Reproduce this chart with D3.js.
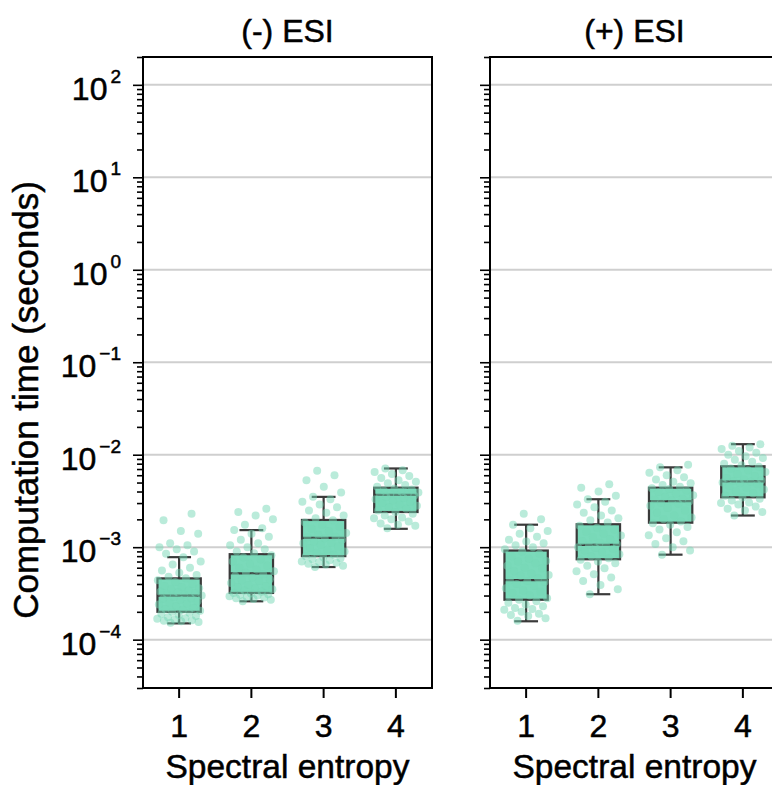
<!DOCTYPE html>
<html><head><meta charset="utf-8">
<script src="https://cdn.jsdelivr.net/npm/d3@7"></script>
<style>body{margin:0;background:#fff;} svg{display:block;font-family:"Liberation Sans",Arial,Helvetica,sans-serif;} text{stroke:#000;stroke-width:0.5px;}</style>
</head><body>
<svg id="chart" width="772" height="785"></svg>
<script>
const panels = ["(-) ESI", "(+) ESI"];
const categories = ["1", "2", "3", "4"];
const yTickExponents = [-4, -3, -2, -1, 0, 1, 2];
const yLabel = "Computation time (seconds)";
const xLabel = "Spectral entropy";

// box statistics per panel (order: categories)
const whiskerLow = [[1.5e-4, 2.6e-4, 6.1e-4, 1.58e-3], [1.58e-4, 3.1e-4, 8.3e-4, 2.2e-3]];
const q1 = [[2.0e-4, 3.2e-4, 8.0e-4, 2.4e-3], [2.7e-4, 7.4e-4, 1.84e-3, 3.46e-3]];
const median = [[3.0e-4, 5.2e-4, 1.26e-3, 3.67e-3], [4.4e-4, 1.06e-3, 3.15e-3, 5.15e-3]];
const q3 = [[4.6e-4, 8.4e-4, 1.97e-3, 4.4e-3], [9.2e-4, 1.77e-3, 4.4e-3, 7.5e-3]];
const whiskerHigh = [[7.8e-4, 1.53e-3, 3.5e-3, 7.1e-3], [1.75e-3, 3.3e-3, 7.3e-3, 1.3e-2]];

// individual observations
const negESI_1 = [1.52e-4,1.55e-4,1.58e-4,1.6e-4,1.62e-4,1.65e-4,1.68e-4,1.7e-4,1.75e-4,1.8e-4,1.85e-4,1.9e-4,1.95e-4,2.0e-4,
  2.05e-4,2.1e-4,2.15e-4,2.2e-4,2.3e-4,2.4e-4,2.45e-4,2.5e-4,2.6e-4,2.7e-4,2.75e-4,2.8e-4,2.9e-4,3.0e-4,3.05e-4,3.1e-4,3.2e-4,3.25e-4,3.3e-4,3.4e-4,3.5e-4,3.6e-4,3.7e-4,3.8e-4,4.0e-4,4.2e-4,4.4e-4,4.6e-4,
  4.8e-4,5.0e-4,5.3e-4,5.6e-4,6.0e-4,6.5e-4,7.0e-4,7.8e-4,8.5e-4,9.0e-4,9.5e-4,1.0e-3,1.05e-3,1.1e-3,1.4e-3,1.5e-3,1.95e-3,2.3e-3];
const negESI_2 = [2.6e-4,2.7e-4,2.75e-4,2.8e-4,2.85e-4,2.9e-4,2.95e-4,3.0e-4,3.05e-4,3.1e-4,3.15e-4,3.2e-4,
  3.3e-4,3.4e-4,3.5e-4,3.6e-4,3.7e-4,3.8e-4,3.9e-4,4.1e-4,4.3e-4,4.4e-4,4.5e-4,4.7e-4,4.9e-4,5.1e-4,5.3e-4,5.5e-4,5.7e-4,6.0e-4,6.3e-4,6.6e-4,7.0e-4,7.4e-4,7.8e-4,8.2e-4,
  8.6e-4,9.0e-4,9.5e-4,1.0e-3,1.05e-3,1.1e-3,1.2e-3,1.3e-3,1.4e-3,1.53e-3,1.6e-3,1.75e-3,2.0e-3,2.2e-3,2.4e-3,2.6e-3];
const negESI_3 = [6.1e-4,6.3e-4,6.5e-4,6.6e-4,6.8e-4,6.9e-4,7.0e-4,7.2e-4,7.4e-4,7.6e-4,7.8e-4,8.0e-4,
  8.3e-4,8.7e-4,9.0e-4,9.4e-4,9.8e-4,1.02e-3,1.06e-3,1.1e-3,1.12e-3,1.15e-3,1.2e-3,1.25e-3,1.28e-3,1.3e-3,1.36e-3,1.42e-3,1.5e-3,1.58e-3,1.66e-3,1.75e-3,1.85e-3,1.95e-3,
  2.05e-3,2.2e-3,2.35e-3,2.5e-3,2.7e-3,2.9e-3,3.1e-3,3.3e-3,3.5e-3,3.9e-3,4.5e-3,5.3e-3,6.0e-3,6.7e-3];
const negESI_4 = [1.6e-3,1.7e-3,1.75e-3,1.8e-3,1.9e-3,2.0e-3,2.05e-3,2.1e-3,2.2e-3,2.3e-3,2.4e-3,
  2.5e-3,2.6e-3,2.7e-3,2.8e-3,2.9e-3,3.0e-3,3.1e-3,3.2e-3,3.3e-3,3.4e-3,3.5e-3,3.6e-3,3.65e-3,3.7e-3,3.75e-3,3.8e-3,3.9e-3,4.0e-3,4.1e-3,4.2e-3,4.3e-3,
  4.5e-3,4.7e-3,4.9e-3,5.1e-3,5.3e-3,5.6e-3,5.9e-3,6.2e-3,6.5e-3,6.8e-3,7.1e-3];
const posESI_1 = [1.6e-4,1.7e-4,1.8e-4,1.85e-4,1.9e-4,2.0e-4,2.1e-4,2.15e-4,2.2e-4,2.3e-4,2.4e-4,2.5e-4,2.6e-4,2.7e-4,
  2.8e-4,3.0e-4,3.2e-4,3.3e-4,3.4e-4,3.6e-4,3.8e-4,4.0e-4,4.2e-4,4.3e-4,4.4e-4,4.6e-4,4.9e-4,5.0e-4,5.2e-4,5.5e-4,5.9e-4,6.0e-4,6.3e-4,6.7e-4,7.0e-4,7.1e-4,7.5e-4,8.0e-4,8.5e-4,9.0e-4,
  9.5e-4,1.0e-3,1.05e-3,1.1e-3,1.15e-3,1.2e-3,1.3e-3,1.4e-3,1.5e-3,1.6e-3,1.75e-3,2.0e-3,2.3e-3];
const posESI_2 = [3.1e-4,3.5e-4,3.9e-4,4.3e-4,4.7e-4,5.1e-4,5.5e-4,5.9e-4,6.3e-4,6.7e-4,7.0e-4,7.3e-4,
  7.6e-4,8.0e-4,8.4e-4,8.8e-4,9.2e-4,9.6e-4,9.8e-4,1.0e-3,1.04e-3,1.06e-3,1.08e-3,1.12e-3,1.17e-3,1.22e-3,1.28e-3,1.34e-3,1.4e-3,1.47e-3,1.55e-3,1.62e-3,1.7e-3,
  1.85e-3,1.95e-3,2.05e-3,2.2e-3,2.35e-3,2.5e-3,2.7e-3,2.9e-3,3.1e-3,3.3e-3,3.6e-3,4.0e-3,4.4e-3,4.8e-3];
const posESI_3 = [8.3e-4,9.2e-4,1.0e-3,1.08e-3,1.16e-3,1.25e-3,1.35e-3,1.45e-3,1.55e-3,1.65e-3,1.75e-3,1.82e-3,
  1.9e-3,2.0e-3,2.1e-3,2.2e-3,2.35e-3,2.5e-3,2.65e-3,2.8e-3,2.95e-3,3.0e-3,3.1e-3,3.2e-3,3.25e-3,3.35e-3,3.5e-3,3.65e-3,3.8e-3,3.95e-3,4.1e-3,4.25e-3,4.35e-3,
  4.5e-3,4.7e-3,4.9e-3,5.1e-3,5.4e-3,5.7e-3,6.0e-3,6.4e-3,6.8e-3,7.3e-3,7.8e-3];
const posESI_4 = [2.2e-3,2.4e-3,2.5e-3,2.6e-3,2.75e-3,2.9e-3,3.0e-3,3.05e-3,3.2e-3,3.35e-3,3.45e-3,
  3.6e-3,3.8e-3,4.0e-3,4.2e-3,4.4e-3,4.6e-3,4.8e-3,4.9e-3,5.0e-3,5.1e-3,5.2e-3,5.3e-3,5.4e-3,5.6e-3,5.9e-3,6.2e-3,6.5e-3,6.8e-3,7.1e-3,7.4e-3,
  7.7e-3,8.0e-3,8.4e-3,8.8e-3,9.2e-3,9.6e-3,1.0e-2,1.05e-2,1.1e-2,1.15e-2,1.2e-2,1.25e-2,1.3e-2];
const points = [[negESI_1, negESI_2, negESI_3, negESI_4], [posESI_1, posESI_2, posESI_3, posESI_4]];

// ---------- drawing ----------
const svg = d3.select("#chart");
const plotTop = 57, plotBottom = 688;
const panelX = [143, 490];
const panelW = 289;
const boxColor = "rgb(122,218,186)";
const pointColor = "rgba(118,216,182,0.5)";
const edge = "#3a3a3a";

const y = d3.scaleLog().domain([3e-5, 200]).range([plotBottom, plotTop]);

const majorTicks = yTickExponents.map(e => Math.pow(10, e));
const minorTicks = [];
for (let e = -5; e <= 2; e++) for (let m = 2; m <= 9; m++) {
  const v = m * Math.pow(10, e);
  if (v >= 3e-5 && v <= 200.0001) minorTicks.push(v);
}

panels.forEach((title, p) => {
  const x0 = panelX[p];
  const x = d3.scaleBand().domain(categories).range([x0, x0 + panelW]).padding(0);
  const g = svg.append("g");

  g.selectAll("line.grid").data(majorTicks).join("line")
    .attr("x1", x0).attr("x2", x0 + panelW)
    .attr("y1", d => y(d)).attr("y2", d => y(d))
    .attr("stroke", "#cfcfcf").attr("stroke-width", 2);

  const bw = x.bandwidth() * 0.6;
  const cw = x.bandwidth() * 0.33;

  categories.forEach((c, i) => {
    const cx = x(c) + x.bandwidth() / 2;
    g.append("line").attr("x1", cx).attr("x2", cx).attr("y1", y(whiskerHigh[p][i])).attr("y2", y(q3[p][i]))
      .attr("stroke", edge).attr("stroke-width", 2.2);
    g.append("line").attr("x1", cx).attr("x2", cx).attr("y1", y(q1[p][i])).attr("y2", y(whiskerLow[p][i]))
      .attr("stroke", edge).attr("stroke-width", 2.2);
    [whiskerHigh[p][i], whiskerLow[p][i]].forEach(v => {
      g.append("line").attr("x1", cx - cw / 2).attr("x2", cx + cw / 2).attr("y1", y(v)).attr("y2", y(v))
        .attr("stroke", edge).attr("stroke-width", 2.2);
    });
    g.append("rect").attr("x", cx - bw / 2).attr("width", bw)
      .attr("y", y(q3[p][i])).attr("height", y(q1[p][i]) - y(q3[p][i]))
      .attr("fill", boxColor).attr("stroke", edge).attr("stroke-width", 2.2);
    g.append("line").attr("x1", cx - bw / 2).attr("x2", cx + bw / 2)
      .attr("y1", y(median[p][i])).attr("y2", y(median[p][i]))
      .attr("stroke", edge).attr("stroke-width", 2.2);

    const spread = bw / 2 + 1;
    g.selectAll(null).data(points[p][i]).join("circle")
      .attr("cx", (d, k) => cx + (((k * 0.6180339887 + 0.31) % 1) - 0.5) * 2 * spread)
      .attr("cy", d => y(d))
      .attr("r", 4)
      .attr("fill", pointColor);
  });

  g.append("rect").attr("x", x0).attr("y", plotTop).attr("width", panelW).attr("height", plotBottom - plotTop)
    .attr("fill", "none").attr("stroke", "#000").attr("stroke-width", 2);

  const yAxis = d3.axisLeft(y).tickValues(majorTicks.concat(minorTicks)).tickFormat("").tickSizeOuter(0);
  const ya = g.append("g").attr("transform", `translate(${x0},0)`).call(yAxis);
  ya.select(".domain").remove();
  ya.selectAll(".tick line")
    .attr("x2", d => majorTicks.includes(d) ? -10 : -6)
    .attr("stroke", "#000").attr("stroke-width", 1.6);

  const xAxis = d3.axisBottom(x).tickSize(10).tickSizeOuter(0).tickPadding(16);
  const xa = g.append("g").attr("transform", `translate(0,${plotBottom})`).call(xAxis);
  xa.select(".domain").remove();
  xa.selectAll(".tick line").attr("stroke", "#000").attr("stroke-width", 2);
  xa.selectAll(".tick text").attr("font-size", 32).attr("fill", "#000")
    .attr("font-family", "'Liberation Sans', Arial, sans-serif");

  g.append("text").attr("x", x0 + panelW / 2).attr("y", 778).attr("text-anchor", "middle")
    .attr("font-size", 33.5).text(xLabel);

  g.append("text").attr("x", x0 + panelW / 2).attr("y", 42).attr("text-anchor", "middle")
    .attr("font-size", 32).text(title);

  if (p === 0) {
    yTickExponents.forEach(e => {
      const t = g.append("text").attr("x", 121).attr("y", y(Math.pow(10, e)) + 15)
        .attr("text-anchor", "end").attr("font-size", 32);
      t.append("tspan").text("10");
      t.append("tspan").attr("font-size", 19).attr("dy", -17).attr("dx", 3)
        .text(e < 0 ? "\u2212" + (-e) : String(e));
    });
  }
});

svg.append("text").attr("transform", `translate(38,400) rotate(-90)`)
  .attr("text-anchor", "middle").attr("font-size", 35).text(yLabel);
</script>
</body></html>
